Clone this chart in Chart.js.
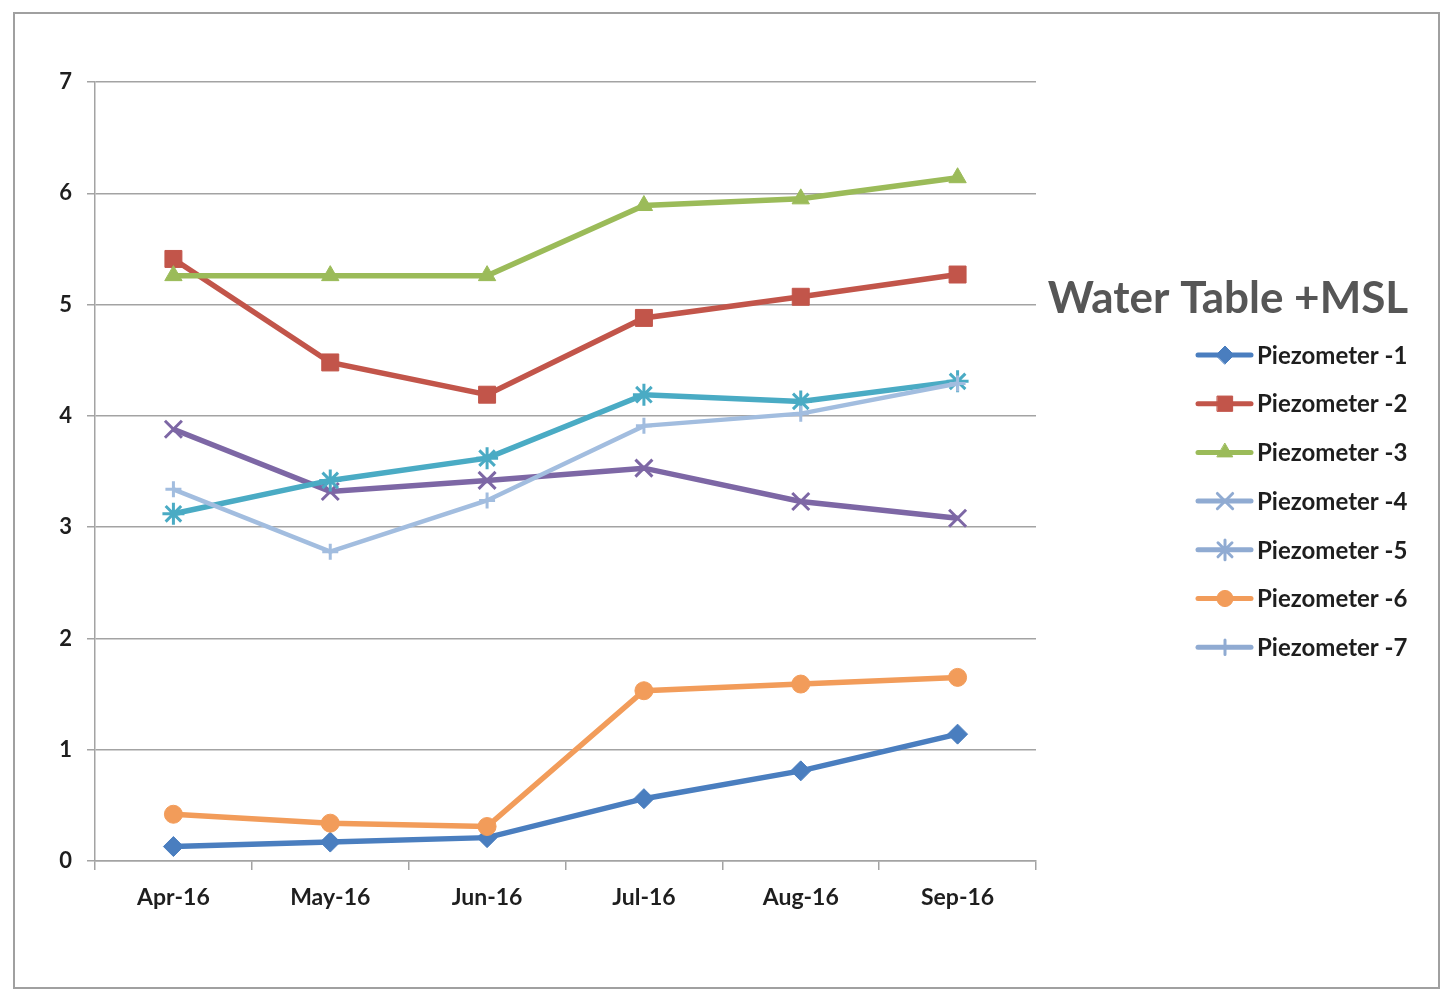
<!DOCTYPE html>
<html>
<head>
<meta charset="utf-8">
<script src="https://cdn.jsdelivr.net/npm/chart.js@4/dist/chart.umd.min.js"></script>
<style>
  html, body { margin: 0; padding: 0; background: #fff; }
  #wrap { position: absolute; left: 0; top: 0; width: 1447px; height: 989px; }
  #frame { position: absolute; left: 13px; top: 12px; width: 1423px; height: 973px;
           border: 2px solid #a0a0a0; pointer-events: none; }
</style>
</head>
<body>
<div id="wrap"><canvas id="mycanvas"></canvas></div>
<div id="frame"></div>
<script>
// data
var months = ['Apr-16', 'May-16', 'Jun-16', 'Jul-16', 'Aug-16', 'Sep-16'];
var yTicks = [0, 1, 2, 3, 4, 5, 6, 7];
var chartTitle = 'Water Table +MSL';
var seriesNames = ['Piezometer -1', 'Piezometer -2', 'Piezometer -3', 'Piezometer -4',
                   'Piezometer -5', 'Piezometer -6', 'Piezometer -7'];
var piezo1 = [0.13, 0.17, 0.21, 0.56, 0.81, 1.14];
var piezo2 = [5.41, 4.48, 4.19, 4.88, 5.07, 5.27];
var piezo3 = [5.26, 5.26, 5.26, 5.89, 5.95, 6.14];
var piezo4 = [3.88, 3.32, 3.42, 3.53, 3.23, 3.08];
var piezo5 = [3.12, 3.42, 3.62, 4.19, 4.13, 4.31];
var piezo6 = [0.42, 0.34, 0.31, 1.53, 1.59, 1.65];
var piezo7 = [3.34, 2.78, 3.24, 3.91, 4.02, 4.29];

var allValues = [piezo1, piezo2, piezo3, piezo4, piezo5, piezo6, piezo7];
var colors = ['#4a7ebf', '#c2554a', '#9bbb59', '#7d67a5', '#4aabc4', '#f29c5a', '#a2bddf'];
var legendColors = ['#4a7ebf', '#c2554a', '#9bbb59', '#90abd2', '#90abd2', '#f29c5a', '#90abd2'];
var styles = ['rectRot', 'rect', 'triangle', 'crossRot', 'star', 'circle', 'cross'];
var radii = [10, 12, 10, 12, 11, 9, 8];
var lineW = [5.5, 5.5, 5.5, 5.5, 5.5, 5.5, 4.5];

var FONT = 'Lato, "Open Sans", sans-serif';
var gridCol = '#a3a3a3';

var datasets = [];
for (var i = 0; i < allValues.length; i++) {
    datasets.push({
        label: seriesNames[i],
        data: allValues[i],
        borderColor: colors[i],
        backgroundColor: colors[i],
        pointBackgroundColor: colors[i],
        pointBorderColor: colors[i],
        pointStyle: styles[i],
        pointRadius: radii[i],
        pointBorderWidth: (styles[i] == 'cross' || styles[i] == 'crossRot' || styles[i] == 'star') ? 3 : 1,
        borderWidth: lineW[i],
        tension: 0,
        order: 7 - i
    });
}

// legend drawn beside the plot, like the spreadsheet one
var sideLegend = {
    id: 'sideLegend',
    afterDraw: function(chart) {
        var ctx = chart.ctx;
        var area = chart.chartArea;
        ctx.save();
        ctx.fillStyle = '#565656';
        ctx.font = 'bold 44px ' + FONT;
        ctx.textAlign = 'center';
        ctx.textBaseline = 'middle';
        ctx.fillText(chartTitle, area.right + 192, 299);

        var x0 = area.right + 162, y0 = 355, step = 48.7;
        ctx.font = 'bold 24px ' + FONT;
        ctx.textAlign = 'left';
        for (var k = 0; k < datasets.length; k++) {
            var y = y0 + k * step;
            ctx.strokeStyle = legendColors[k];
            ctx.fillStyle = legendColors[k];
            ctx.lineWidth = 5;
            ctx.lineCap = 'round';
            ctx.beginPath();
            ctx.moveTo(x0, y);
            ctx.lineTo(x0 + 53, y);
            ctx.stroke();
            ctx.lineWidth = datasets[k].pointBorderWidth;
            Chart.helpers.drawPoint(ctx, {
                pointStyle: styles[k], radius: radii[k] * 0.9, rotation: 0,
                borderWidth: datasets[k].pointBorderWidth
            }, x0 + 27, y);
            ctx.fillStyle = '#1e1e1e';
            ctx.fillText(seriesNames[k], x0 + 59, y + 1);
        }
        ctx.restore();
    }
};

const config = {
    type: 'line',
    data: { labels: months, datasets: datasets },
    plugins: [sideLegend],
    options: {
        responsive: true,
        maintainAspectRatio: false,
        animation: false,
        layout: { padding: { left: 0, top: 82, right: 411, bottom: 0 } },
        plugins: {
            legend: { display: false },
            tooltip: { enabled: false }
        },
        scales: {
            x: {
                offset: true,
                afterFit: function(scale) { scale.height = 128; },
                grid: { drawOnChartArea: false, drawTicks: true, tickLength: 9, color: gridCol, lineWidth: 1.5, offset: true },
                border: { color: gridCol, width: 1.5 },
                ticks: { color: '#1e1e1e', padding: 14, font: { family: FONT, size: 23, weight: 'bold' } }
            },
            y: {
                min: yTicks[0],
                max: yTicks[yTicks.length - 1],
                afterFit: function(scale) { scale.width = 95; },
                afterBuildTicks: function(scale) {
                    scale.ticks = yTicks.map(function(v) { return { value: v }; });
                },
                grid: { color: gridCol, lineWidth: 1.5, tickLength: 8 },
                border: { color: gridCol, width: 1.5 },
                ticks: { color: '#1e1e1e', padding: 15, font: { family: FONT, size: 22, weight: 'bold' } }
            }
        }
    }
};

const myChart = new Chart(document.getElementById('mycanvas'), config);
</script>
</body>
</html>
